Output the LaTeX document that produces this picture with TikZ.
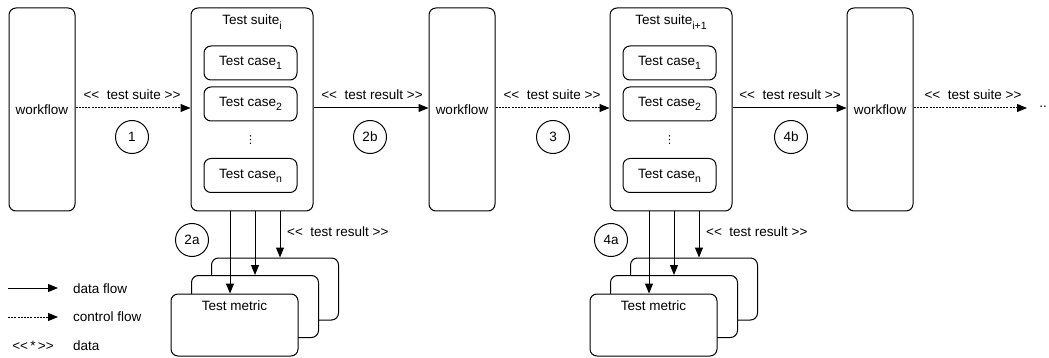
\documentclass[tikz,border=0pt]{standalone}
\usepackage{fontspec}
\setmainfont{Liberation Sans}
\newfontfamily\symfont{DejaVu Sans}
\usetikzlibrary{arrows.meta}
% lowered, smaller index text
\newcommand\idx[1]{\raisebox{-0.6ex}{\fontsize{10.5}{12}\selectfont #1}}
\tikzset{
  base/.style={font=\fontsize{13.5}{16}\selectfont, inner sep=0pt},
  box/.style={base, draw, line width=1pt, rounded corners=7pt, fill=white},
  wfbox/.style={box, minimum width=66pt, minimum height=203pt},
  suitebox/.style={box, minimum width=122pt, minimum height=203pt},
  casebox/.style={box, minimum width=93pt, minimum height=34pt},
  metricbox/.style={box, minimum width=127pt, minimum height=62pt},
  stepnum/.style={base, draw, circle, line width=1pt, minimum size=33pt},
  lbl/.style={base},
  tip/.style={-{Triangle[length=10pt,width=8pt]}},
  dataflow/.style={tip, line width=1pt},
  ctrlflow/.style={tip, line width=1pt, dash pattern=on 2pt off 1.2pt},
}
\begin{document}
\begin{tikzpicture}[x=1pt,y=-1pt]
\useasboundingbox (0,0) rectangle (1049,358);

% workflow stages
\node[wfbox] (wf1) at (42,109.5) {workflow};
\node[wfbox] (wf2) at (462,109.5) {workflow};
\node[wfbox] (wf3) at (880,109.5) {workflow};

% test suites with their cases and metrics
\foreach \k/\dx/\sfx in {1/0/i, 2/419/{i+1}} {
  \begin{scope}[xshift=\dx]
    \node[suitebox] (suite\k) at (252,109.5) {};
    \node[lbl] (title\k) at (252,22) {Test suite\idx{\sfx}};
    \node[casebox] (caseA\k) at (250.5,63) {Test case\idx{1}};
    \node[casebox] (caseB\k) at (250.5,104) {Test case\idx{2}};
    \node[lbl] (dots\k) at (250.5,140) {\symfont\fontsize{11}{11}\selectfont ⋮};
    \node[casebox] (caseN\k) at (250.5,175.5) {Test case\idx{n}};

    \node[metricbox] (mback\k) at (275,289) {};
    \node[metricbox] (mmid\k) at (255,306.5) {};
    \node[metricbox] (mfront\k) at (234.5,325) {};
    \node[lbl, anchor=north] (mtext\k) at (mfront\k.north) {\rule{0pt}{17pt}Test metric};

    \coordinate (sa\k) at (230,211);
    \coordinate (sb\k) at (255,211);
    \coordinate (sc\k) at (280,211);
    \draw[dataflow] (sa\k) -- (sa\k |- mfront\k.north);
    \draw[dataflow] (sb\k) -- (sb\k |- mmid\k.north);
    \draw[dataflow] (sc\k) -- (sc\k |- mback\k.north);

    \node[lbl, anchor=west] (res\k) at (287,232) {<{}<\ \ test result >{}>};
  \end{scope}
}
\node[stepnum] (n2a) at (192,240) {2a};
\node[stepnum] (n4a) at (611,240) {4a};

% horizontal flow between stages
\coordinate (more) at (1027,108);
\draw[ctrlflow] (wf1.east |- 0,108) -- (suite1.west |- 0,108);
\draw[dataflow] (suite1.east |- 0,108) -- (wf2.west |- 0,108);
\draw[ctrlflow] (wf2.east |- 0,108) -- (suite2.west |- 0,108);
\draw[dataflow] (suite2.east |- 0,108) -- (wf3.west |- 0,108);
\draw[ctrlflow] (wf3.east |- 0,108) -- (more);
\node[lbl] (etc) at (1043,107) {..};

\node[lbl] (l1) at (132,95) {<{}<\ \ test suite >{}>};
\node[lbl] (l2) at (372,95) {<{}<\ \ test result >{}>};
\node[lbl] (l3) at (552,95) {<{}<\ \ test suite >{}>};
\node[lbl] (l4) at (790,95) {<{}<\ \ test result >{}>};
\node[lbl] (l5) at (973,95) {<{}<\ \ test suite >{}>};

\node[stepnum] (n1) at (132,137) {1};
\node[stepnum] (n2b) at (370,137) {2b};
\node[stepnum] (n3) at (553,137) {3};
\node[stepnum] (n4b) at (791,137) {4b};

% legend
\coordinate (d0) at (8,288);
\coordinate (d1) at (58,288);
\coordinate (c0) at (8,317);
\coordinate (c1) at (58,317);
\draw[dataflow] (d0) -- (d1);
\draw[ctrlflow] (c0) -- (c1);
\node[lbl, anchor=west] (ld) at (73,289) {data flow};
\node[lbl, anchor=west] (lc) at (73,317) {control flow};
\node[lbl] (lsym) at (33,346) {<{}<\,*\,>{}>};
\node[lbl, anchor=west] (ldata) at (73,346) {data};
\end{tikzpicture}
\end{document}
